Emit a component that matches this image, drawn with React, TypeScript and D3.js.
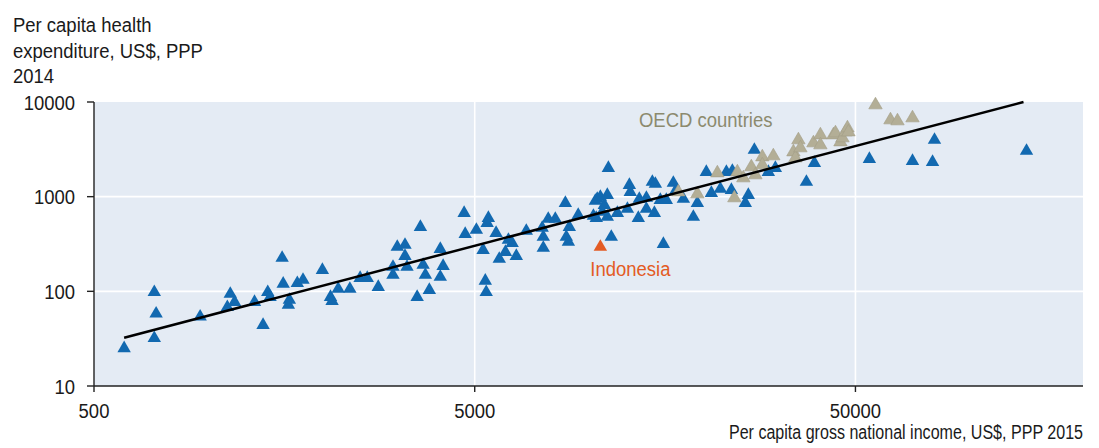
import React from 'react';
import * as d3 from 'd3';

const W = 1099;
const H = 448;

const xTicks = [500, 5000, 50000];
const yTicks = [10, 100, 1000, 10000];
const yTitle = ['Per capita health', 'expenditure, US$, PPP', '2014'];
const xTitle = 'Per capita gross national income, US$, PPP 2015';

// [GNI per capita, health expenditure per capita]
const nonOecd: [number, number][] = [
  [600, 25], [720, 98], [728, 58], [720, 32], [950, 54], [1140, 94], [1120, 68], [1170, 77],
  [1320, 77], [1390, 44], [1430, 98], [1450, 87], [1560, 225], [1570, 120], [1630, 81], [1620, 72],
  [1710, 122], [1770, 132], [1990, 168], [2090, 87], [2110, 79], [2190, 106], [2350, 106], [2500, 138],
  [2610, 138], [2790, 111], [3050, 149], [3050, 181], [3130, 294], [3280, 309], [3280, 236], [3320, 181],
  [3600, 478], [3530, 87], [3660, 190], [3710, 149], [3800, 103], [4060, 280], [4130, 185], [4060, 142],
  [4690, 672], [4720, 403], [5050, 445], [5330, 129], [5360, 98], [5260, 273], [5390, 527], [5430, 595],
  [5690, 413], [5800, 220], [6020, 260], [6270, 324], [6430, 236], [6130, 349], [6830, 434], [7520, 467],
  [7570, 375], [7570, 287], [7800, 581], [8140, 581], [8700, 375], [8810, 332], [8650, 857], [8860, 478],
  [9350, 640], [10370, 900], [10430, 595], [10250, 625], [10490, 945], [10690, 993], [10820, 689], [11150, 610],
  [11150, 1041], [10950, 816], [11220, 2008], [11420, 375], [11850, 672], [12590, 741], [12740, 1328], [12810, 1120],
  [13450, 595], [13530, 945], [14120, 969], [14120, 741], [14640, 1429], [14910, 1361], [14820, 672], [15360, 922],
  [15930, 922], [15650, 316], [16620, 1395], [16830, 1147], [17660, 945], [18760, 610], [19220, 857], [20290, 1822],
  [20920, 1093], [22090, 1205], [22910, 1822], [23750, 1867], [23610, 1176], [25690, 857], [26160, 1041], [27130, 3113],
  [29530, 1822], [30810, 2008], [37170, 1429], [39010, 2267], [54400, 2498], [70600, 2380], [79700, 2322], [80650, 3970],
  [140700, 3037],
];

const oecd: [number, number][] = [
  [17130, 1120], [19220, 1067], [21690, 1778], [24040, 969], [24480, 1822], [25380, 1575], [26640, 2058], [27300, 1694],
  [28470, 2624], [28470, 2161], [30430, 2690], [34360, 2963], [34770, 2560], [35410, 3970], [35840, 3268], [38780, 3690],
  [40450, 4480], [40450, 3514], [43770, 4480], [44310, 4705], [45670, 3779], [46220, 4168], [47070, 4818], [47640, 5310],
  [47930, 4818], [56440, 9297], [61800, 6455], [64470, 6300], [70600, 6777],
];

const indonesia: [number, number] = [10690, 294];

// log-log fit: log10(y) = a + b * log10(x)
const fitA = -1.418;
const fitB = 1.054;
const fitFrom = 600;

const BLUE = '#1269b0';
const GREY = '#b3ae96';
const ORANGE = '#e35b24';

const x = d3.scaleLog().domain([500, 198000]).range([94, 1083]);
const y = d3.scaleLog().domain([10, 10000]).range([386, 102]);

const tri = d3.symbol(d3.symbolTriangle, 78)();

const Label = ({ x, y, anchor = 'start', fill = '#1a1a1a', sx = 0.88, children }: any) => (
  <text transform={`translate(${x},${y}) scale(${sx},1)`} textAnchor={anchor} fill={fill} fontSize={21}>
    {children}
  </text>
);

export default function App() {
  const [x0, x1] = x.range();
  const [y0, y1] = y.range();
  const fitTo = Math.pow(10, (Math.log10(10000) - fitA) / fitB);
  const fitPts: [number, number][] = [fitFrom, fitTo].map(v => [v, Math.pow(10, fitA + fitB * Math.log10(v))]);
  const line = d3.line<[number, number]>().x(d => x(d[0])).y(d => y(d[1]));

  return (
    <svg width={W} height={H} style={{ position: 'absolute', left: 0, top: 0 }}
      fontFamily="'Liberation Sans', Arial, sans-serif">
      <rect x={0} y={0} width={W} height={H} fill="#fff" />
      <rect x={x0} y={y1} width={x1 - x0} height={y0 - y1} fill="#e4ebf4" />

      {/* grid */}
      {yTicks.slice(1, -1).map(t => (
        <line key={'gy' + t} x1={x0} x2={x1} y1={y(t)} y2={y(t)} stroke="#fff" strokeWidth={1.6} />
      ))}
      {xTicks.slice(1).map(t => (
        <line key={'gx' + t} x1={x(t)} x2={x(t)} y1={y1} y2={y0} stroke="#fff" strokeWidth={1.6} />
      ))}

      {/* axes */}
      <line x1={x0} x2={x0} y1={y1} y2={y0} stroke="#222" strokeWidth={1.4} />
      <line x1={x0} x2={x1} y1={y0} y2={y0} stroke="#222" strokeWidth={1.4} />
      {yTicks.map(t => (
        <g key={'ty' + t}>
          <line x1={x0 - 7} x2={x0} y1={y(t)} y2={y(t)} stroke="#222" strokeWidth={1.4} />
          <Label x={75} y={y(t) + 7.5} anchor="end">{t}</Label>
        </g>
      ))}
      {xTicks.map(t => (
        <g key={'tx' + t}>
          <line x1={x(t)} x2={x(t)} y1={y0} y2={y0 + 6} stroke="#222" strokeWidth={1.4} />
          <Label x={x(t)} y={418} anchor="middle">{t}</Label>
        </g>
      ))}

      {/* titles */}
      {yTitle.map((s, i) => (
        <Label key={s} x={13} y={32 + i * 25.5}>{s}</Label>
      ))}
      <Label x={x1} y={439} anchor="end" sx={0.765}>{xTitle}</Label>

      {/* points */}
      {nonOecd.map((d, i) => (
        <path key={'b' + i} d={tri!} transform={`translate(${x(d[0])},${y(d[1])})`} fill={BLUE} />
      ))}
      {oecd.map((d, i) => (
        <path key={'o' + i} d={tri!} transform={`translate(${x(d[0])},${y(d[1])})`} fill={GREY}
          stroke="#a29e87" strokeWidth={0.6} />
      ))}
      <path d={tri!} transform={`translate(${x(indonesia[0])},${y(indonesia[1])})`} fill={ORANGE} />

      {/* fitted line */}
      <path d={line(fitPts)!} fill="none" stroke="#000" strokeWidth={2.5} />

      <Label x={639} y={127} fill="#8c8a6e">OECD countries</Label>
      <Label x={x(indonesia[0]) - 10} y={276} fill={ORANGE}>Indonesia</Label>
    </svg>
  );
}
